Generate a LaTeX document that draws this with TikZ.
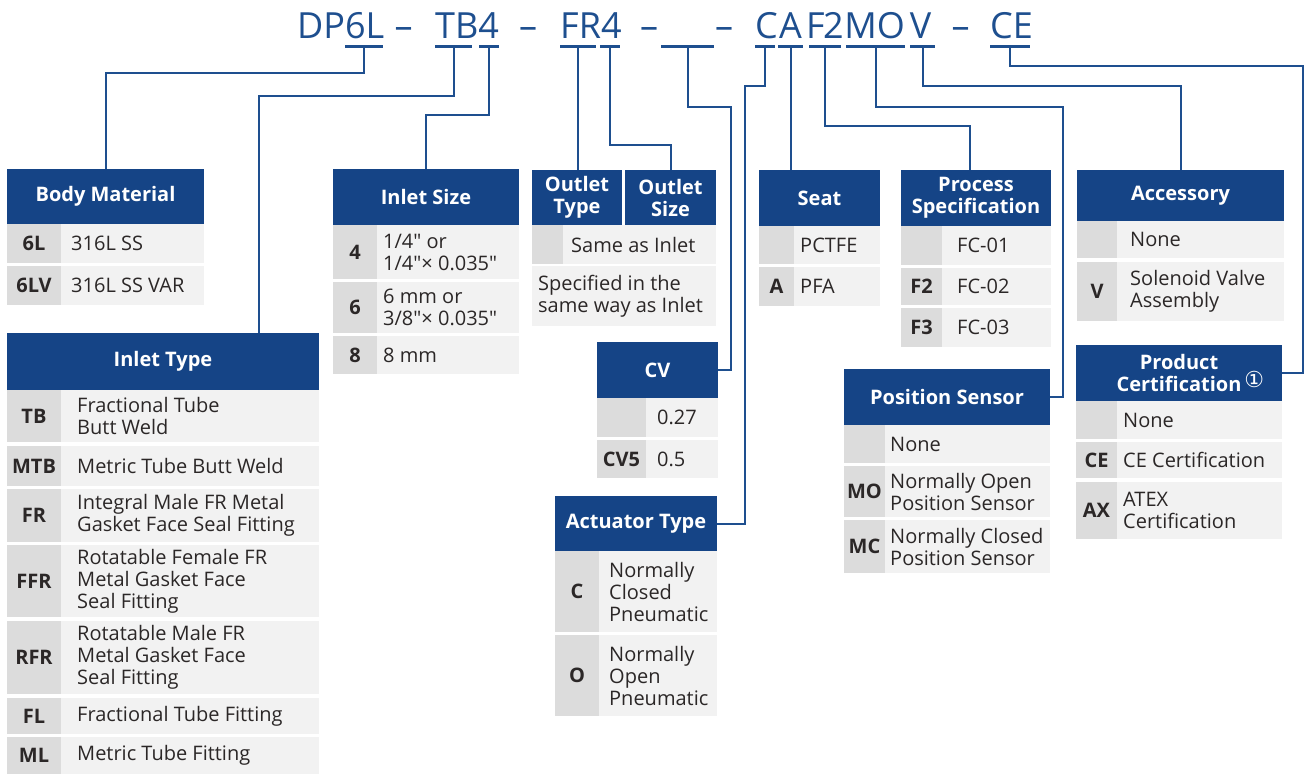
\documentclass[tikz,border=0pt]{standalone}
\usepackage{fontspec}
\setmainfont{Open Sans}
\newfontfamily\symfont{DejaVu Sans}
\usetikzlibrary{calc}
\definecolor{navy}{HTML}{154486}
\definecolor{lnblue}{HTML}{1E4F8F}
\definecolor{codegrey}{HTML}{DCDCDC}
\definecolor{descgrey}{HTML}{F2F2F2}
\definecolor{txt}{HTML}{2B2727}
\newcommand\qq{\XeTeXglyph\XeTeXcharglyph"22\relax}
\tikzset{
 base/.style={inner sep=0pt, outer sep=0pt, anchor=north west},
 hdr/.style={base, fill=navy, text=white, font=\fontsize{20}{22}\selectfont\bfseries, align=center},
 codecell/.style={base, fill=codegrey, text=txt, font=\fontsize{20}{22}\selectfont\bfseries, align=center},
 desccell/.style={base, fill=descgrey},
 desctext/.style={inner sep=0pt, anchor=west, text=txt, font=\fontsize{20}{22}\selectfont, align=left},
 uline/.style={fill=lnblue, inner sep=0pt, minimum height=2.2pt},
 conn/.style={draw=lnblue, line width=2pt},
 codetxt/.style={inner sep=0pt, anchor=base west, text=lnblue, font=\fontsize{36}{40}\selectfont},
 codeltr/.style={codetxt, anchor=base},
}
\newcommand\tabrow[9]{%
  \node[codecell, minimum width=#4, minimum height=#6] (#1c) at (#2,#3) {#8};
  \node[desccell, minimum width=#5-#4, minimum height=#6] (#1d) at (#2+#4,#3) {};
  \node[desctext] (#1t) at ([xshift=#7]#1d.west) {#9};
}
\newcommand\hdrbox[6]{%
  \node[hdr, minimum width=#4, minimum height=#5] (#1) at (#2,#3) {#6};
}
\begin{document}
\begin{tikzpicture}[x=1pt,y=-1pt]
\useasboundingbox[fill=white] (0,0) rectangle (1308,774);

% code string
\node[codetxt] (c1) at (297,38) {DP6L};
\node[codeltr] (d1) at (403.5,38) {–};
\node[codetxt] (c2) at (435,38) {TB4};
\node[codeltr] (d2) at (528,38) {–};
\node[codetxt] (c3) at (560,38) {FR4};
\node[codeltr] (d3) at (649,38) {–};
\node[codeltr] (d4) at (724,38) {–};
\node[codeltr] (c4a) at (766.5,38) {C};
\node[codeltr] (c4b) at (790.5,38) {A};
\node[codeltr] (c4c) at (815.5,38) {F};
\node[codeltr] (c4d) at (833.5,38) {2};
\node[codeltr] (c4e) at (860.5,38) {M};
\node[codeltr] (c4f) at (891,38) {O};
\node[codeltr] (c4g) at (920.5,38) {V};
\node[codeltr] (d5) at (960.5,38) {–};
\node[codetxt] (c5) at (990,38) {CE};

% underlines
\node[uline, minimum width=38] (u1) at (364,46.5) {};
\node[uline, minimum width=37] (u2) at (453.5,46.5) {};
\node[uline, minimum width=20] (u3) at (488.5,46.5) {};
\node[uline, minimum width=36] (u4) at (578,46.5) {};
\node[uline, minimum width=20] (u5) at (610,46.5) {};
\node[uline, minimum width=53] (u6) at (687.5,46.5) {};
\node[uline, minimum width=20] (u7) at (765,46.5) {};
\node[uline, minimum width=25] (u8) at (790.5,46.5) {};
\node[uline, minimum width=32] (u9) at (825,46.5) {};
\node[uline, minimum width=59] (u10) at (875.5,46.5) {};
\node[uline, minimum width=25] (u11) at (922.5,46.5) {};
\node[uline, minimum width=40] (u12) at (1010,46.5) {};

% Body Material
\hdrbox{bm}{7}{169}{197}{55}{Body Material}
\tabrow{bmA}{7}{224}{54}{197}{39}{10}{6L}{316L SS}
\tabrow{bmB}{7}{266}{54}{197}{39}{10}{6LV}{316L SS VAR}

% Inlet Type
\hdrbox{it}{7}{333}{312}{57}{Inlet Type}
\tabrow{itA}{7}{390}{54}{312}{52}{16}{TB}{Fractional Tube\\Butt Weld}
\tabrow{itB}{7}{446}{54}{312}{40}{16}{MTB}{Metric Tube Butt Weld}
\tabrow{itC}{7}{489}{54}{312}{53}{16}{FR}{Integral Male FR Metal\\Gasket Face Seal Fitting}
\tabrow{itD}{7}{545}{54}{312}{72}{16}{FFR}{Rotatable Female FR\\Metal Gasket Face\\Seal Fitting}
\tabrow{itE}{7}{621}{54}{312}{73}{16}{RFR}{Rotatable Male FR\\Metal Gasket Face\\Seal Fitting}
\tabrow{itF}{7}{698}{54}{312}{36}{16}{FL}{Fractional Tube Fitting}
\tabrow{itG}{7}{737}{54}{312}{37}{16}{ML}{Metric Tube Fitting}

% Inlet Size
\hdrbox{is}{333}{169}{186}{56}{Inlet Size}
\tabrow{isA}{333}{225}{44}{186}{54}{6}{4}{1/4\qq\ or\\1/4\qq× 0.035\qq}
\tabrow{isB}{333}{282}{44}{186}{51}{6}{6}{6 mm or\\3/8\qq× 0.035\qq}
\tabrow{isC}{333}{336}{44}{186}{38}{6}{8}{8 mm}

% Outlet
\hdrbox{ot}{532}{170}{90}{55}{Outlet\\Type}
\hdrbox{os}{625}{170}{91}{55}{Outlet\\Size}
\tabrow{olA}{532}{225}{31}{184}{39}{8}{}{Same as Inlet}
\node[desccell, minimum width=184, minimum height=60] (olB) at (532,266) {};
\node[desctext] (olBt) at ([xshift=6]olB.west) {Specified in the\\same way as Inlet};

% CV
\hdrbox{cv}{597}{342}{121}{56}{CV}
\tabrow{cvA}{597}{398}{49}{121}{39}{11}{}{0.27}
\tabrow{cvB}{597}{440}{49}{121}{38}{11}{CV5}{0.5}

% Actuator Type
\hdrbox{at}{555}{496}{162}{55}{Actuator Type}
\tabrow{atA}{555}{551}{44}{162}{81}{10}{C}{Normally\\Closed\\Pneumatic}
\tabrow{atB}{555}{635}{44}{162}{81}{10}{O}{Normally\\Open\\Pneumatic}

% Seat
\hdrbox{st}{759}{170}{121}{56}{Seat}
\tabrow{stA}{759}{226}{35}{121}{38}{6}{}{PCTFE}
\tabrow{stB}{759}{267}{35}{121}{39}{6}{A}{PFA}

% Process Specification
\hdrbox{ps}{901}{170}{150}{56}{Process\\Specification}
\tabrow{psA}{901}{226}{41}{150}{39}{15}{}{FC-01}
\tabrow{psB}{901}{268}{41}{150}{37}{15}{F2}{FC-02}
\tabrow{psC}{901}{308}{41}{150}{39}{15}{F3}{FC-03}

% Accessory
\hdrbox{ac}{1077}{170}{207}{51}{Accessory}
\tabrow{acA}{1077}{221}{40}{207}{37}{13}{}{None}
\tabrow{acB}{1077}{262}{40}{207}{59}{13}{V}{Solenoid Valve\\Assembly}

% Position Sensor
\hdrbox{pos}{844}{369}{206}{56}{Position Sensor}
\tabrow{poA}{844}{425}{41}{206}{38}{5}{}{None}
\tabrow{poB}{844}{466}{41}{206}{51}{5}{MO}{Normally Open\\Position Sensor}
\tabrow{poC}{844}{520}{41}{206}{53}{5}{MC}{Normally Closed\\Position Sensor}

% Product Certification
\hdrbox{pc}{1076}{345}{206}{56}{Product\\Certification\makebox[0pt][l]{\hspace{3pt}\raisebox{4.5pt}{\mdseries\symfont\fontsize{22}{22}\selectfont ①}}}
\tabrow{pcA}{1076}{401}{41}{206}{38}{6}{}{None}
\tabrow{pcB}{1076}{442}{41}{206}{36}{6}{CE}{CE Certification}
\tabrow{pcC}{1076}{482}{41}{206}{57}{6}{AX}{ATEX\\Certification}

% connectors
\draw[conn] (u1.center) -- ++(0,26) -| (bm.north);
\draw[conn] (u2.center) -- ++(0,49.5) -| ([xshift=96]it.north);
\draw[conn] (u3.center) -- ++(0,68.5) -| (is.north);
\draw[conn] (u4.center) -- (u4.center |- ot.north);
\draw[conn] (u5.center) -- ++(0,98.5) -| (os.north);
\draw[conn] (u6.center) -- ++(0,60.5) -| ([xshift=13]cv.east) -- (cv.east);
\draw[conn] (u7.center) -- ++(0,39.5) -| ([xshift=28]at.east) -- (at.east);
\draw[conn] (u8.center) -- (u8.center |- st.north);
\draw[conn] (u9.center) -- ++(0,79.5) -| ([xshift=-6]ps.north);
\draw[conn] (u10.center) -- ++(0,60.5) -| ([xshift=13]pos.east) -- (pos.east);
\draw[conn] (u11.center) -- ++(0,39.5) -| (ac.north);
\draw[conn] (u12.center) -- ++(0,19.5) -| ([xshift=21]pc.east) -- (pc.east);
\end{tikzpicture}
\end{document}
